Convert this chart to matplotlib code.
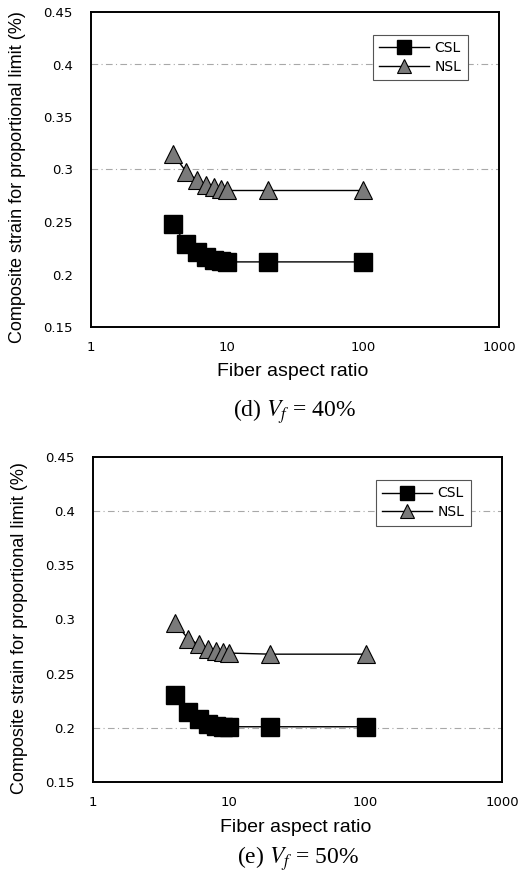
import numpy as np
import matplotlib
matplotlib.use('Agg')
import matplotlib.pyplot as plt

# fiber aspect ratios used for both panels
aspect = [4, 5, 6, 7, 8, 9, 10, 20, 100]

# (d) Vf = 40%
csl_40 = [0.248, 0.229, 0.221, 0.217, 0.214, 0.213, 0.212, 0.212, 0.212]
nsl_40 = [0.315, 0.298, 0.290, 0.285, 0.283, 0.281, 0.280, 0.280, 0.280]
# (e) Vf = 50%
csl_50 = [0.230, 0.215, 0.208, 0.204, 0.202, 0.201, 0.201, 0.201, 0.201]
nsl_50 = [0.297, 0.282, 0.277, 0.273, 0.271, 0.270, 0.269, 0.268, 0.268]

yticks = [0.15, 0.2, 0.25, 0.3, 0.35, 0.4, 0.45]
ytick_labels = ['0.15', '0.2', '0.25', '0.3', '0.35', '0.4', '0.45']
xticks = [1, 10, 100, 1000]
xtick_labels = ['1', '10', '100', '1000']

panels = [
    ('(d) ', '40%', csl_40, nsl_40, [0.3, 0.4]),
    ('(e) ', '50%', csl_50, nsl_50, [0.2, 0.4]),
]

sans = 'Liberation Sans'
tickfont = 'DejaVu Sans'
serif = 'Liberation Serif'

W, H = 519, 880
fig = plt.figure(figsize=(W / 100, H / 100), dpi=100)

# axes boxes in pixels: left, top, right, bottom, caption centre
boxes = [(91, 12, 499, 327, 412), (93, 457, 502, 782, 859)]

for (tag, pct, csl, nsl, grid_levels), (l, t, r, b, cy) in zip(panels, boxes):
    ax = fig.add_axes([l / W, 1 - b / H, (r - l) / W, (b - t) / H])
    ax.set_xscale('log')
    ax.set_xlim(1, 1000)
    ax.set_ylim(0.15, 0.45)

    for g in grid_levels:
        ax.axhline(g, color='#a8a8a8', lw=0.8, ls=(0, (6, 3, 1, 3)), zorder=0)

    ax.plot(aspect, csl, color='black', lw=1.0, marker='s', markersize=12.5,
            markerfacecolor='black', markeredgecolor='black', label='CSL', zorder=3)
    ax.plot(aspect, nsl, color='black', lw=1.0, marker='^', markersize=13,
            markerfacecolor='#7a7a7a', markeredgecolor='black', markeredgewidth=0.8,
            label='NSL', zorder=3)

    ax.set_xticks(xticks)
    ax.set_xticklabels(xtick_labels, fontfamily=tickfont, fontsize=9.5)
    ax.xaxis.set_minor_locator(matplotlib.ticker.NullLocator())
    ax.set_yticks(yticks)
    ax.set_yticklabels(ytick_labels, fontfamily=tickfont, fontsize=9.5)
    ax.tick_params(axis='x', length=0, pad=10)
    ax.tick_params(axis='y', length=0, pad=13)
    for s in ax.spines.values():
        s.set_linewidth(1.4)

    ax.set_xlabel('Fiber aspect ratio', fontfamily=sans, fontsize=14)
    ax.xaxis.set_label_coords(0.495, -0.115)
    ax.set_ylabel('Composite strain for proportional limit (%)', fontfamily=sans,
                  fontsize=13)
    ax.yaxis.set_label_coords(-0.16, 0.475)

    leg = ax.legend(loc='upper right', bbox_to_anchor=(0.94, 0.95),
                    prop={'family': tickfont, 'size': 10}, fancybox=False,
                    framealpha=1, edgecolor='#555555', handlelength=3.6,
                    markerscale=0.8, borderpad=0.45, labelspacing=0.35,
                    handletextpad=0.4)
    leg.get_frame().set_linewidth(0.8)

    fig.text((l + r) / 2 / W, 1 - cy / H, tag + '$V_f$ = ' + pct,
             fontfamily=serif, fontsize=17, ha='center', va='center',
             math_fontfamily='stix')

fig.savefig('out.png', dpi=100)
